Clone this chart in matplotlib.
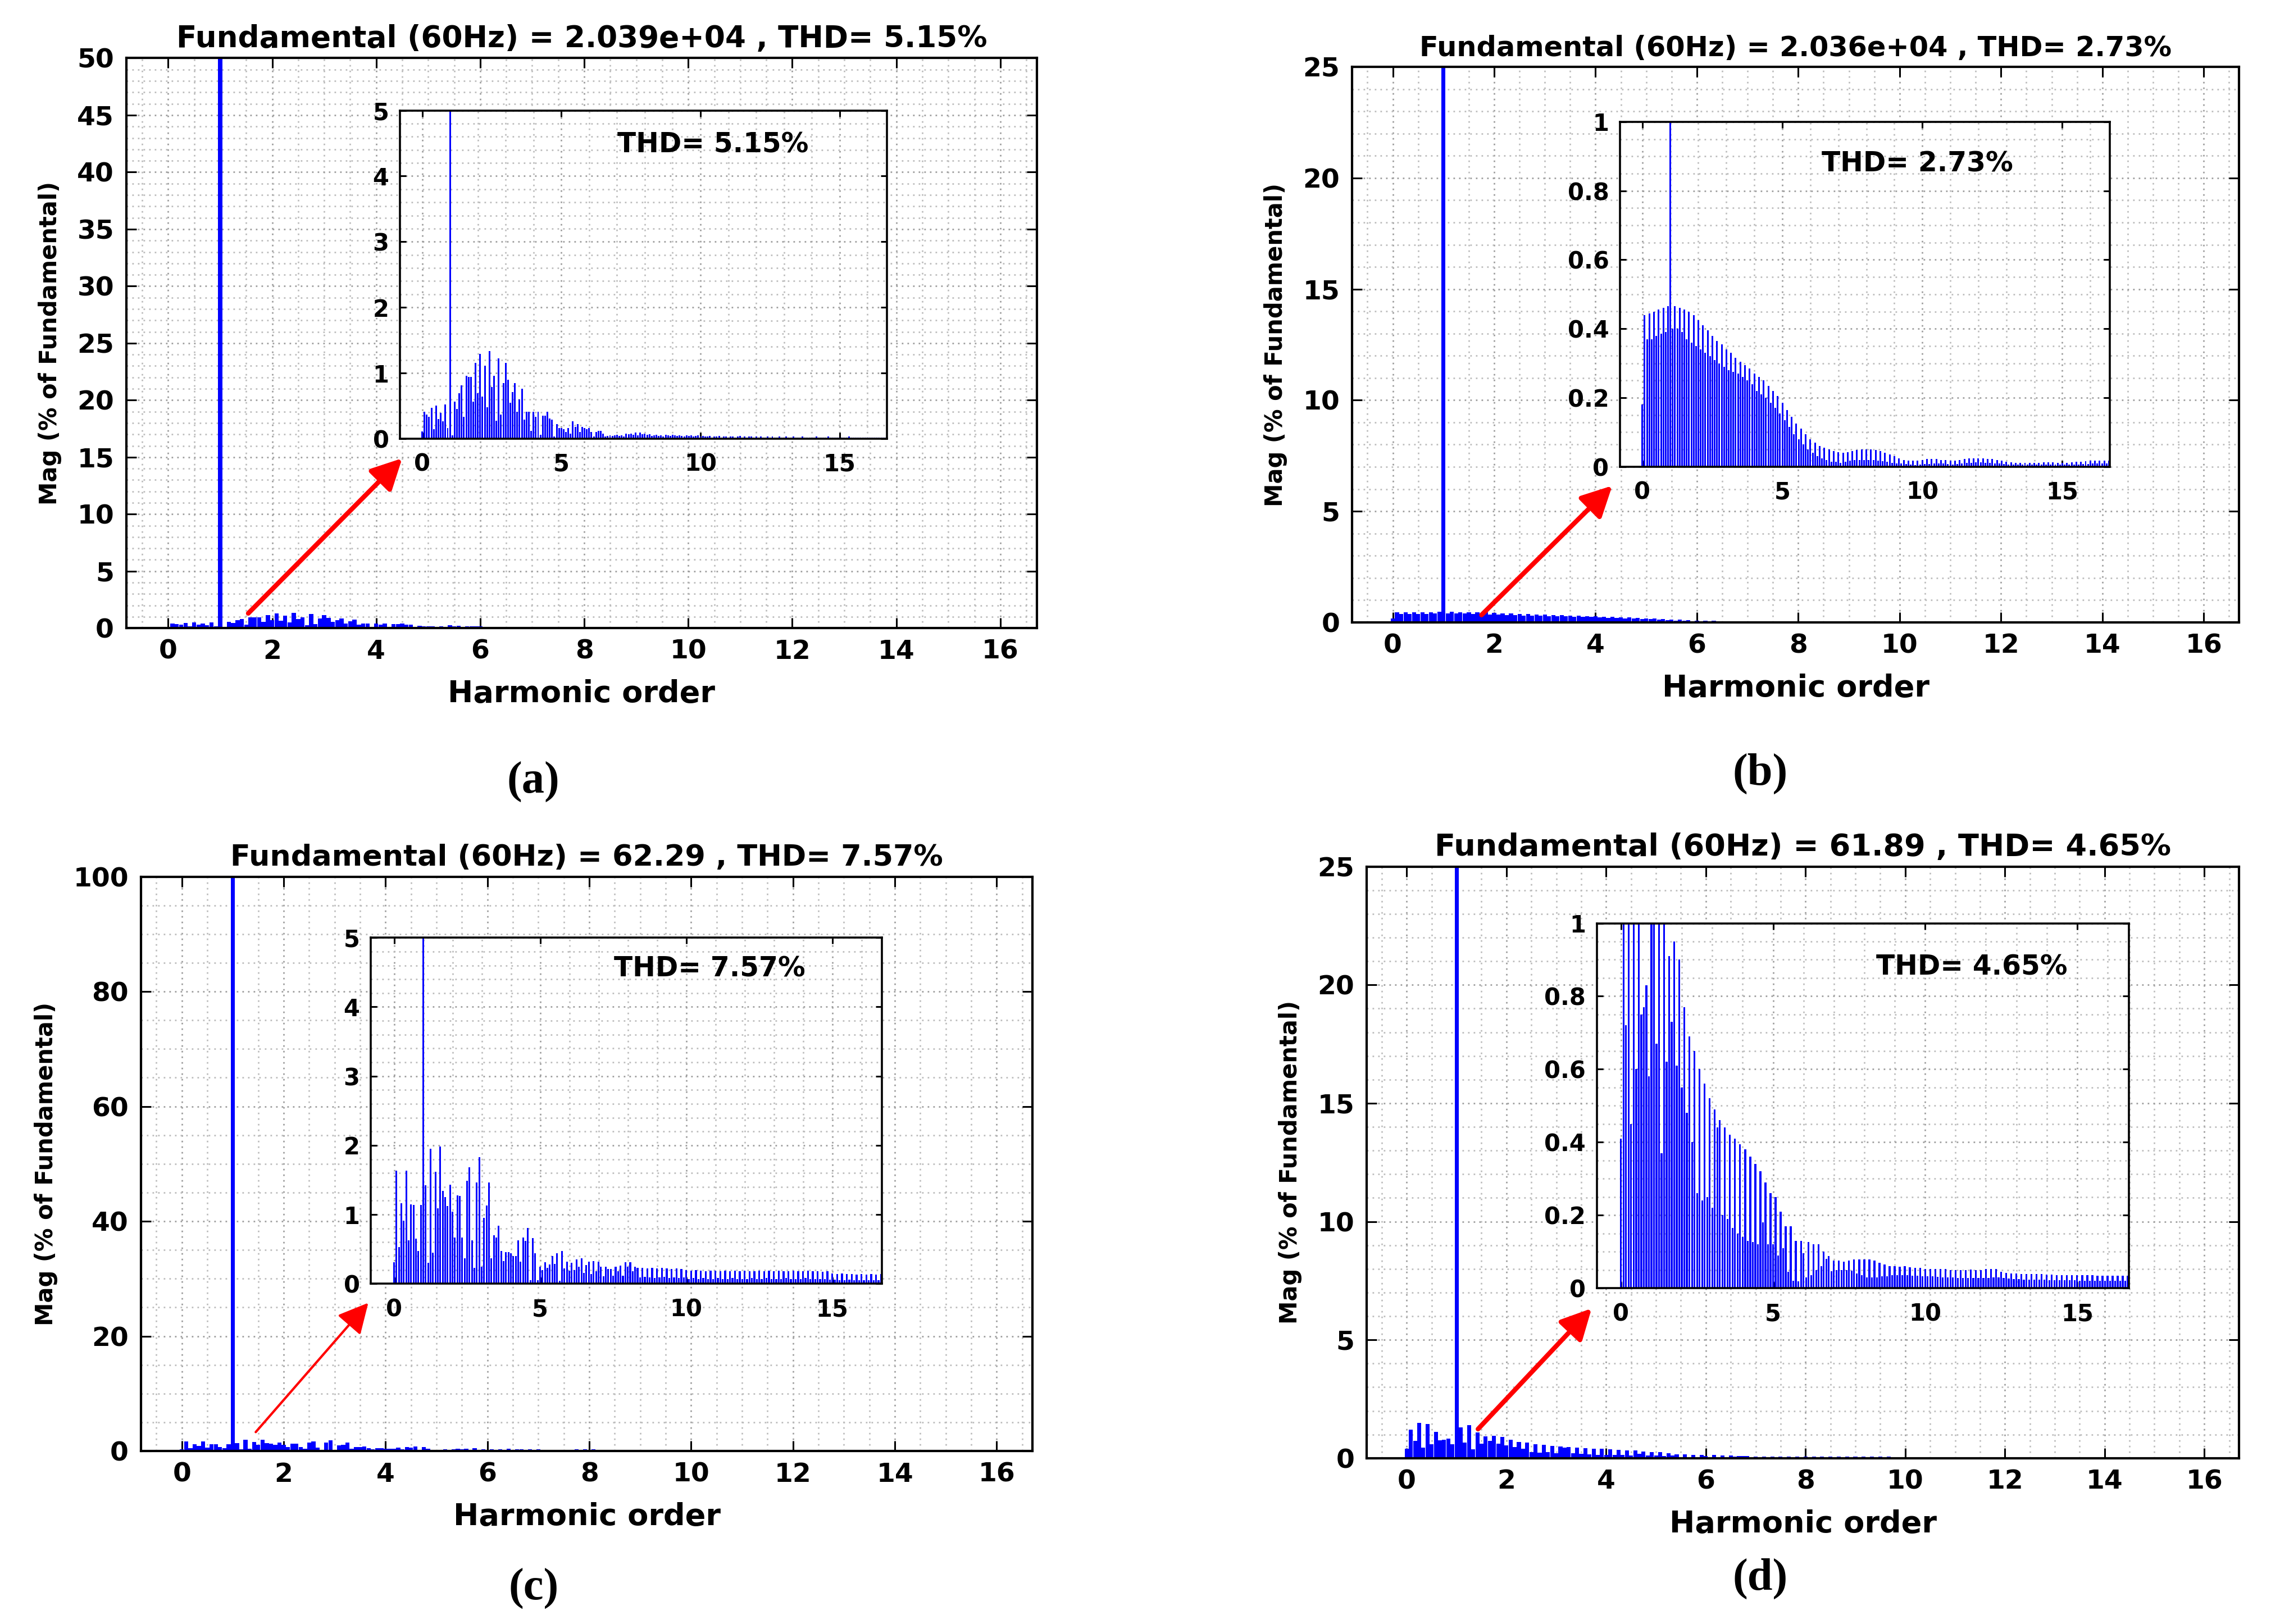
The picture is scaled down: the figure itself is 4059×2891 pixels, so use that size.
import numpy as np
import matplotlib
matplotlib.use("Agg")
import matplotlib.pyplot as plt
from matplotlib.ticker import MultipleLocator, FuncFormatter

# FFT spectra, % of fundamental, one bin every 1/12 harmonic (5 Hz on 60 Hz)
# each row below covers one harmonic order (12 bins)
bin_step = 1.0 / 12.0

mag_a = [
    0.11, 0.41, 0.37, 0.33, 0.47, 0.14, 0.50, 0.30, 0.39, 0.26, 0.52, 0.16,
    100.0, 0.05, 0.56, 0.45, 0.69, 0.81, 0.33, 0.96, 0.94, 0.94, 0.56, 1.15,
    0.69, 1.29, 0.64, 1.11, 0.48, 1.33, 0.79, 0.96, 0.27, 1.22, 0.37, 0.85,
    1.15, 0.90, 0.55, 0.71, 0.85, 0.41, 0.60, 0.76, 0.29, 0.41, 0.41, 0.12,
    0.41, 0.33, 0.41, 0.06, 0.35, 0.35, 0.41, 0.31, 0.29, 0.03, 0.22, 0.16,
    0.16, 0.14, 0.10, 0.16, 0.08, 0.26, 0.18, 0.22, 0.10, 0.18, 0.16, 0.14,
    0.16, 0.10, 0.03, 0.10, 0.12, 0.12, 0.08, 0.03, 0.04, 0.05, 0.04, 0.05,
    0.06, 0.04, 0.05, 0.03, 0.08, 0.07, 0.08, 0.06, 0.09, 0.05, 0.09, 0.07,
    0.08, 0.06, 0.07, 0.04, 0.05, 0.06, 0.04, 0.05, 0.03, 0.06, 0.05, 0.04,
    0.06, 0.05, 0.04, 0.05, 0.04, 0.03, 0.05, 0.04, 0.05, 0.03, 0.04, 0.05,
    0.03, 0.04, 0.03, 0.03, 0.04, 0.02, 0.03, 0.03, 0.04, 0.02, 0.03, 0.03,
    0.02, 0.03, 0.03, 0.02, 0.03, 0.04, 0.02, 0.03, 0.02, 0.03, 0.03, 0.02,
    0.03, 0.02, 0.03, 0.02, 0.02, 0.03, 0.02, 0.03, 0.02, 0.02, 0.03, 0.02,
    0.02, 0.03, 0.02, 0.02, 0.03, 0.02, 0.02, 0.02, 0.03, 0.02, 0.02, 0.02,
    0.02, 0.02, 0.03, 0.02, 0.02, 0.02, 0.02, 0.03, 0.02, 0.02, 0.02, 0.02,
    0.02, 0.02, 0.02, 0.02, 0.03, 0.02, 0.02, 0.02, 0.02, 0.02, 0.02, 0.02,
    0.02, 0.02, 0.02, 0.02, 0.02, 0.02, 0.02, 0.02, 0.02, 0.02, 0.02, 0.02,
]

mag_b = [
    0.18, 0.44, 0.37, 0.445, 0.37, 0.45, 0.38, 0.455, 0.385, 0.46, 0.39, 0.465,
    100.0, 0.40, 0.465, 0.40, 0.46, 0.39, 0.455, 0.37, 0.45, 0.36, 0.44, 0.35,
    0.425, 0.34, 0.41, 0.33, 0.395, 0.32, 0.38, 0.31, 0.365, 0.30, 0.355, 0.29,
    0.34, 0.28, 0.33, 0.275, 0.315, 0.27, 0.305, 0.26, 0.295, 0.25, 0.285, 0.24,
    0.27, 0.22, 0.26, 0.21, 0.25, 0.20, 0.235, 0.185, 0.22, 0.17, 0.205, 0.155,
    0.185, 0.135, 0.165, 0.115, 0.145, 0.095, 0.125, 0.08, 0.11, 0.065, 0.095, 0.05,
    0.08, 0.04, 0.07, 0.03, 0.06, 0.025, 0.055, 0.02, 0.05, 0.015, 0.045, 0.015,
    0.042, 0.012, 0.04, 0.015, 0.042, 0.018, 0.045, 0.02, 0.048, 0.02, 0.05, 0.02,
    0.05, 0.02, 0.05, 0.02, 0.048, 0.018, 0.045, 0.016, 0.04, 0.014, 0.035, 0.012,
    0.03, 0.01, 0.025, 0.01, 0.02, 0.008, 0.018, 0.006, 0.017, 0.005, 0.018, 0.006,
    0.02, 0.008, 0.022, 0.008, 0.022, 0.01, 0.022, 0.01, 0.02, 0.009, 0.019, 0.008,
    0.018, 0.007, 0.018, 0.008, 0.02, 0.01, 0.022, 0.012, 0.024, 0.012, 0.025, 0.013,
    0.025, 0.013, 0.024, 0.012, 0.023, 0.011, 0.022, 0.01, 0.02, 0.009, 0.018, 0.008,
    0.015, 0.007, 0.013, 0.006, 0.012, 0.006, 0.012, 0.006, 0.012, 0.006, 0.012, 0.006,
    0.012, 0.006, 0.012, 0.006, 0.013, 0.006, 0.013, 0.007, 0.013, 0.006, 0.012, 0.006,
    0.012, 0.006, 0.012, 0.006, 0.013, 0.007, 0.014, 0.007, 0.015, 0.008, 0.016, 0.008,
    0.017, 0.009, 0.018, 0.009, 0.018, 0.009, 0.018, 0.009, 0.018, 0.009, 0.018, 0.009,
]

mag_c = [
    0.31, 1.63, 0.53, 1.16, 0.91, 1.63, 0.63, 1.15, 1.14, 0.65, 0.47, 1.14,
    100.0, 1.42, 0.30, 1.95, 0.45, 1.62, 1.09, 1.98, 1.34, 1.25, 1.12, 1.43,
    1.04, 0.67, 1.28, 1.27, 0.67, 0.37, 1.49, 1.68, 0.63, 0.23, 1.46, 1.83,
    0.25, 0.95, 1.13, 1.46, 0.37, 0.70, 0.67, 0.84, 0.47, 0.33, 0.46, 0.46,
    0.44, 0.40, 0.40, 0.63, 0.32, 0.67, 0.62, 0.81, 0.05, 0.66, 0.44, 0.05,
    0.25, 0.20, 0.31, 0.23, 0.28, 0.40, 0.29, 0.44, 0.04, 0.47, 0.22, 0.32,
    0.19, 0.30, 0.20, 0.35, 0.25, 0.37, 0.16, 0.27, 0.32, 0.14, 0.33, 0.18,
    0.32, 0.25, 0.11, 0.25, 0.21, 0.21, 0.12, 0.25, 0.18, 0.26, 0.12, 0.31,
    0.25, 0.31, 0.18, 0.25, 0.23, 0.09, 0.23, 0.10, 0.22, 0.09, 0.23, 0.08,
    0.22, 0.09, 0.23, 0.10, 0.22, 0.08, 0.21, 0.09, 0.22, 0.08, 0.21, 0.09,
    0.20, 0.07, 0.19, 0.08, 0.20, 0.07, 0.19, 0.08, 0.18, 0.07, 0.19, 0.07,
    0.19, 0.08, 0.18, 0.07, 0.19, 0.07, 0.18, 0.08, 0.19, 0.07, 0.18, 0.07,
    0.19, 0.07, 0.18, 0.08, 0.18, 0.07, 0.19, 0.07, 0.18, 0.08, 0.19, 0.07,
    0.18, 0.07, 0.19, 0.07, 0.18, 0.08, 0.18, 0.07, 0.19, 0.07, 0.18, 0.07,
    0.18, 0.08, 0.19, 0.07, 0.18, 0.07, 0.18, 0.07, 0.17, 0.07, 0.18, 0.06,
    0.15, 0.06, 0.14, 0.05, 0.15, 0.05, 0.14, 0.06, 0.14, 0.05, 0.13, 0.05,
    0.14, 0.05, 0.13, 0.05, 0.14, 0.05, 0.13, 0.05, 0.14, 0.05, 0.13, 0.05,
]

mag_d = [
    0.41, 1.20, 0.72, 1.50, 0.45, 1.45, 0.60, 1.10, 0.75, 0.77, 0.83, 0.58,
    100.0, 1.30, 0.67, 1.40, 0.37, 1.08, 0.62, 0.91, 0.73, 0.95, 0.61, 0.90,
    0.55, 0.77, 0.48, 0.69, 0.40, 0.65, 0.26, 0.60, 0.24, 0.56, 0.25, 0.52,
    0.22, 0.49, 0.44, 0.46, 0.20, 0.44, 0.19, 0.42, 0.165, 0.41, 0.15, 0.395,
    0.14, 0.38, 0.13, 0.36, 0.127, 0.34, 0.12, 0.32, 0.18, 0.29, 0.12, 0.26,
    0.12, 0.25, 0.09, 0.21, 0.11, 0.17, 0.045, 0.17, 0.02, 0.13, 0.018, 0.13,
    0.095, 0.03, 0.127, 0.035, 0.12, 0.05, 0.12, 0.06, 0.10, 0.08, 0.088, 0.046,
    0.075, 0.05, 0.075, 0.05, 0.072, 0.05, 0.075, 0.048, 0.078, 0.04, 0.078, 0.035,
    0.078, 0.03, 0.078, 0.03, 0.075, 0.03, 0.07, 0.032, 0.065, 0.033, 0.06, 0.035,
    0.06, 0.035, 0.058, 0.035, 0.06, 0.035, 0.057, 0.034, 0.056, 0.034, 0.055, 0.033,
    0.053, 0.032, 0.053, 0.032, 0.052, 0.031, 0.053, 0.03, 0.052, 0.03, 0.05, 0.03,
    0.05, 0.028, 0.05, 0.028, 0.05, 0.028, 0.051, 0.028, 0.05, 0.028, 0.05, 0.028,
    0.052, 0.028, 0.053, 0.03, 0.053, 0.03, 0.045, 0.028, 0.042, 0.026, 0.04, 0.025,
    0.04, 0.025, 0.039, 0.024, 0.039, 0.024, 0.038, 0.024, 0.038, 0.023, 0.038, 0.023,
    0.037, 0.022, 0.037, 0.022, 0.036, 0.022, 0.036, 0.021, 0.036, 0.021, 0.035, 0.021,
    0.035, 0.02, 0.035, 0.02, 0.035, 0.02, 0.035, 0.02, 0.034, 0.02, 0.034, 0.02,
    0.034, 0.02, 0.034, 0.02, 0.034, 0.02, 0.034, 0.02, 0.034, 0.02, 0.034, 0.02,
]

fundamentals = ["2.039e+04", "2.036e+04", "62.29", "61.89"]
thd_values = [5.15, 2.73, 7.57, 4.65]
panel_tags = ["(a)", "(b)", "(c)", "(d)"]
main_ymax = [50, 25, 100, 25]
main_ystep = [5, 5, 20, 5]
main_yminor = [1, 1, 5, 1]
inset_ymax = [5, 1, 5, 1]
inset_ystep = [1, 0.2, 1, 0.2]
inset_yminor = [0.2, 0.05, 0.2, 0.05]

# figure-fraction boxes [left, bottom, width, height]
main_boxes = [
    [0.0555, 0.6132, 0.3992, 0.3510],
    [0.5931, 0.6168, 0.3890, 0.3420],
    [0.0619, 0.1065, 0.3909, 0.3537],
    [0.5995, 0.1021, 0.3826, 0.3643],
]
inset_boxes = [
    [0.1754, 0.7299, 0.2136, 0.2021],
    [0.7105, 0.7126, 0.2149, 0.2124],
    [0.1626, 0.2095, 0.2242, 0.2131],
    [0.7003, 0.2068, 0.2334, 0.2247],
]
title_size = [38.3, 35.6, 37.7, 39.0]
thd_pos = [(0.643, 0.895), (0.607, 0.878), (0.663, 0.91), (0.705, 0.88)]
tag_pos = [(0.234, 0.5185), (0.772, 0.5235), (0.234, 0.0215), (0.772, 0.0278)]
# arrow tail / head in harmonic-order, % units of each main axes
arrow_tail = [(1.54, 1.3), (1.75, 0.33), (1.45, 3.3), (1.43, 1.23)]
arrow_head = [(4.50, 14.9), (4.33, 6.15), (3.66, 25.8), (3.71, 6.33)]
arrow_lw = [6.0, 6.0, 3.0, 6.0]

spectra = [mag_a, mag_b, mag_c, mag_d]

plt.rcParams['font.family'] = ['DejaVu Sans']
plt.rcParams['font.weight'] = 'bold'
plt.rcParams['axes.labelweight'] = 'bold'
plt.rcParams['axes.titleweight'] = 'bold'

XLIM = (-0.8, 16.7)
GRID_DOTS = (0, (1.0, 2.6))


def g_fmt(v, pos):
    return f"{v:g}"


def dress(ax, xmaj, xmin, ymaj, ymin, tick_len, spine_w, lab_size, xpad, ypad):
    ax.set_xlim(*XLIM)
    ax.xaxis.set_major_locator(MultipleLocator(xmaj))
    ax.xaxis.set_minor_locator(MultipleLocator(xmin))
    ax.yaxis.set_major_locator(MultipleLocator(ymaj))
    ax.yaxis.set_minor_locator(MultipleLocator(ymin))
    ax.yaxis.set_major_formatter(FuncFormatter(g_fmt))
    ax.set_axisbelow(True)
    ax.grid(which='major', linestyle=GRID_DOTS, color='#9e9e9e', linewidth=2.0)
    ax.grid(which='minor', linestyle=GRID_DOTS, color='#bdbdbd', linewidth=2.0)
    ax.tick_params(which='major', direction='in', top=True, right=True,
                   length=tick_len, width=2.2, labelsize=lab_size)
    ax.tick_params(axis='x', which='major', pad=xpad)
    ax.tick_params(axis='y', which='major', pad=ypad)
    ax.tick_params(which='minor', length=0, top=True, right=True)
    for s in ax.spines.values():
        s.set_linewidth(spine_w)


fig = plt.figure(figsize=(40.59, 28.91), dpi=100)

for i in range(4):
    vals = np.array(spectra[i])
    order = np.arange(len(vals)) * bin_step

    ax = fig.add_axes(main_boxes[i])
    ax.bar(order, vals, width=0.08, color='#0000ff', linewidth=0, zorder=2)
    ax.set_ylim(0, main_ymax[i])
    dress(ax, 2, 0.5, main_ystep[i], main_yminor[i], 13, 3.0, 34, 14, 16)
    ax.set_title(f"Fundamental (60Hz) = {fundamentals[i]} , THD= {thd_values[i]:.2f}%",
                 fontsize=title_size[i], pad=14)
    ax.set_xlabel("Harmonic order", fontsize=39, labelpad=19)
    ax.set_ylabel("Mag (% of Fundamental)", fontsize=30, labelpad=20)

    ax.annotate('', xy=arrow_head[i], xytext=arrow_tail[i], xycoords='data',
                annotation_clip=False, zorder=6,
                arrowprops=dict(arrowstyle='-|>,head_length=1.1,head_width=0.56',
                                color='#ff0000', lw=arrow_lw[i], mutation_scale=30,
                                shrinkA=0, shrinkB=0))

    ins = fig.add_axes(inset_boxes[i])
    ins.set_facecolor('white')
    ins.bar(order, vals, width=0.06, color='#0000ff', linewidth=0, zorder=2)
    ins.set_ylim(0, inset_ymax[i])
    dress(ins, 5, 1, inset_ystep[i], inset_yminor[i], 8, 2.6, 30, 18, 14)
    ins.text(thd_pos[i][0], thd_pos[i][1], f"THD= {thd_values[i]:.2f}%",
             transform=ins.transAxes, ha='center', va='center', fontsize=35)

    fig.text(tag_pos[i][0], tag_pos[i][1], panel_tags[i], ha='center', va='center',
             fontsize=58, fontweight='bold', family='Liberation Serif')

fig.savefig("out.png", dpi=100, facecolor='white')
